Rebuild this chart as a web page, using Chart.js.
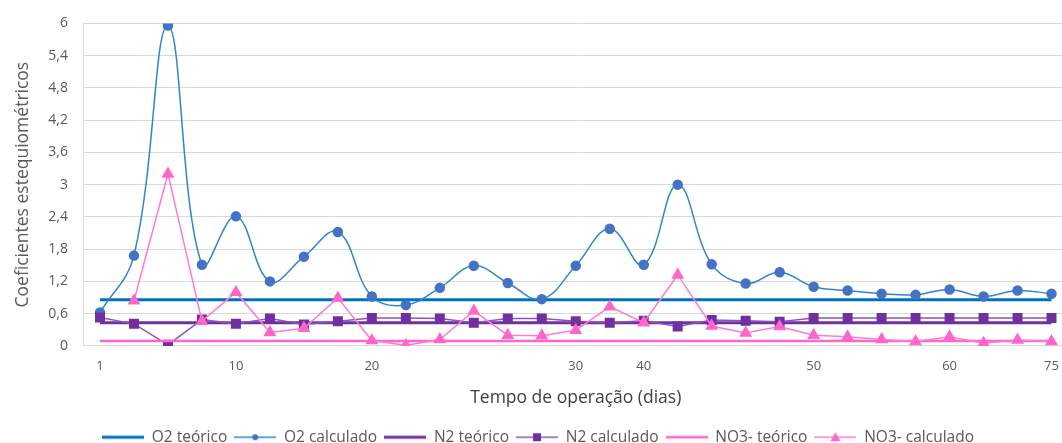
<!DOCTYPE html>
<html>
<head>
<meta charset="utf-8">
<script src="https://cdn.jsdelivr.net/npm/chart.js@4/dist/chart.umd.min.js"></script>
<style>
  body { margin: 0; overflow: hidden; background: #fff; }
  #wrap { width: 1076px; height: 443px; }
</style>
</head>
<body>
<div id="wrap"><canvas id="chart"></canvas></div>
<script>
// x labels (only some days are labelled on the axis)
const tickLabels = ["1", "", "", "", "10", "", "", "", "20", "", "", "", "", "", "30", "",
  "40", "", "", "", "", "50", "", "", "", "60", "", "", "75"];

const o2Calculado = [0.62, 1.68, 5.96, 1.51, 2.41, 1.2, 1.66, 2.12, 0.92, 0.76, 1.08, 1.49, 1.17, 0.87,
  1.49, 2.18, 1.51, 3.0, 1.52, 1.16, 1.37, 1.1, 1.03, 0.97, 0.95, 1.05, 0.92, 1.03, 0.97];
const n2Calculado = [0.53, 0.41, 0.02, 0.49, 0.41, 0.51, 0.4, 0.46, 0.52, 0.52, 0.51, 0.43, 0.51, 0.51,
  0.46, 0.43, 0.47, 0.36, 0.48, 0.47, 0.45, 0.52, 0.52, 0.52, 0.52, 0.52, 0.52, 0.52, 0.52];
const no3Calculado = [null, 0.84, 3.2, 0.46, 1.0, 0.25, 0.33, 0.89, 0.1, 0.01, 0.12, 0.65, 0.2, 0.19,
  0.29, 0.73, 0.43, 1.32, 0.37, 0.24, 0.36, 0.2, 0.17, 0.12, 0.08, 0.17, 0.05, 0.11, 0.08];

// theoretical coefficients (constant over the run)
const o2Teorico = 0.86;
const n2Teorico = 0.43;
const no3Teorico = 0.09;

const textColor = "#595959";
const font = "'Open Sans', 'Noto Sans', sans-serif";

function flat(v) {
  return tickLabels.map(() => v);
}

// small canvas used as legend symbol: line with optional marker
function legendIcon(color, lineWidth, marker, markerColor) {
  const c = document.createElement("canvas");
  c.width = 42;
  c.height = 12;
  const g = c.getContext("2d");
  g.strokeStyle = color;
  g.lineWidth = lineWidth;
  g.beginPath();
  g.moveTo(0, 6);
  g.lineTo(42, 6);
  g.stroke();
  g.fillStyle = markerColor || color;
  if (marker === "circle") {
    g.beginPath();
    g.arc(21, 6, 3, 0, Math.PI * 2);
    g.fill();
  } else if (marker === "rect") {
    g.fillRect(17, 2, 8, 8);
  } else if (marker === "triangle") {
    g.beginPath();
    g.moveTo(21, 1);
    g.lineTo(26, 10);
    g.lineTo(16, 10);
    g.closePath();
    g.fill();
  }
  return c;
}

const datasets = [
  {
    label: "O2 teórico",
    data: flat(o2Teorico),
    borderColor: "#0070C0",
    borderWidth: 3,
    pointRadius: 0,
    order: 6,
    icon: legendIcon("#0070C0", 3)
  },
  {
    label: "O2 calculado",
    data: o2Calculado,
    borderColor: "#2E86D0",
    borderWidth: 1.5,
    tension: 0.4,
    pointStyle: "circle",
    pointRadius: 4.5,
    pointBackgroundColor: "#4472C4",
    pointBorderColor: "#4472C4",
    order: 5,
    icon: legendIcon("#2E86D0", 1.5, "circle", "#4472C4")
  },
  {
    label: "N2 teórico",
    data: flat(n2Teorico),
    borderColor: "#7030A0",
    borderWidth: 3,
    pointRadius: 0,
    order: 4,
    icon: legendIcon("#7030A0", 3)
  },
  {
    label: "N2 calculado",
    data: n2Calculado,
    borderColor: "#8A55B8",
    borderWidth: 1.5,
    pointStyle: "rect",
    pointRadius: 6,
    pointBackgroundColor: "#7030A0",
    pointBorderColor: "#7030A0",
    order: 3,
    icon: legendIcon("#8A55B8", 1.5, "rect", "#7030A0")
  },
  {
    label: "NO3- teórico",
    data: flat(no3Teorico),
    borderColor: "#FF66CC",
    borderWidth: 2.5,
    pointRadius: 0,
    order: 2,
    icon: legendIcon("#FF66CC", 2.5)
  },
  {
    label: "NO3- calculado",
    data: no3Calculado,
    borderColor: "#FF7AD2",
    borderWidth: 1.5,
    pointStyle: "triangle",
    pointRadius: 6,
    pointBackgroundColor: "#FF66CC",
    pointBorderColor: "#FF66CC",
    order: 1,
    icon: legendIcon("#FF7AD2", 1.5, "triangle", "#FF66CC")
  }
];

new Chart(document.getElementById("chart"), {
  type: "line",
  data: { labels: tickLabels, datasets },
  options: {
    responsive: true,
    maintainAspectRatio: false,
    animation: false,
    layout: { padding: { top: 14, left: 0, right: 0, bottom: -12 } },
    plugins: {
      tooltip: { enabled: false },
      legend: {
        position: "bottom",
        labels: {
          usePointStyle: true,
          pointStyleWidth: 42,
          padding: 7,
          color: textColor,
          font: { family: font, size: 15.5 },
          generateLabels: chart => chart.data.datasets.map((ds, i) => ({
            text: ds.label,
            pointStyle: ds.icon,
            fillStyle: ds.borderColor,
            strokeStyle: ds.borderColor,
            lineWidth: 0,
            fontColor: textColor,
            hidden: !chart.isDatasetVisible(i),
            datasetIndex: i
          }))
        }
      }
    },
    scales: {
      x: {
        offset: true,
        grid: { display: false, drawTicks: false },
        border: { display: true, color: "#d9d9d9" },
        ticks: {
          autoSkip: false,
          maxRotation: 0,
          padding: 13,
          color: textColor,
          font: { family: font, size: 13 }
        },
        title: {
          display: true,
          text: "Tempo de operação (dias)",
          color: "#404040",
          padding: { top: 0, bottom: 14 },
          font: { family: font, size: 17.5 }
        }
      },
      y: {
        min: 0,
        max: 6,
        afterFit: s => { s.width = 83; },
        grid: { color: "#d9d9d9", drawTicks: false },
        border: { display: true, color: "#d9d9d9" },
        ticks: {
          stepSize: 0.6,
          padding: 15,
          color: textColor,
          font: { family: font, size: 14 },
          callback: v => String(Math.round(v * 10) / 10).replace(".", ",")
        },
        title: {
          display: true,
          text: "Coeficientes estequiométricos",
          color: textColor,
          padding: { top: 13, bottom: 0 },
          font: { family: font, size: 17.5 }
        }
      }
    }
  }
});
</script>
</body>
</html>
